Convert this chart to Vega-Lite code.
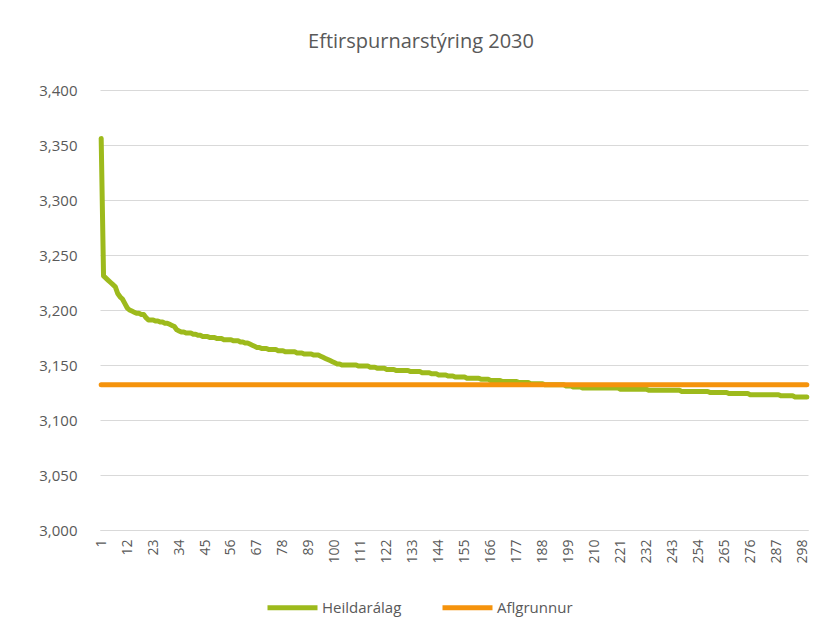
{
  "$schema": "https://vega.github.io/schema/vega-lite/v6.json",
  "autosize": {"type": "none"},
  "width": 708,
  "height": 440,
  "padding": {"left": 100, "top": 90, "right": 12, "bottom": 110},
  "background": "white",
  "title": {"text": "Eftirspurnarstýring 2030", "fontSize": 20, "font": "Open Sans", "fontWeight": "normal", "color": "#595959", "offset": 31, "dx": -33, "anchor": "middle"},
  "config": {"view": {"stroke": null}},
  "data": {"values": [
    {"n":1,"h":3356,"a":3132},{"n":2,"h":3231,"a":3132},{"n":3,"h":3229,"a":3132},{"n":4,"h":3227,"a":3132},{"n":5,"h":3225,"a":3132},
    {"n":6,"h":3223,"a":3132},{"n":7,"h":3221,"a":3132},{"n":8,"h":3215,"a":3132},{"n":9,"h":3212,"a":3132},{"n":10,"h":3210,"a":3132},
    {"n":11,"h":3206,"a":3132},{"n":12,"h":3202,"a":3132},{"n":13,"h":3200,"a":3132},{"n":14,"h":3199,"a":3132},{"n":15,"h":3198,"a":3132},
    {"n":16,"h":3197,"a":3132},{"n":17,"h":3197,"a":3132},{"n":18,"h":3196,"a":3132},{"n":19,"h":3196,"a":3132},{"n":20,"h":3193,"a":3132},
    {"n":21,"h":3191,"a":3132},{"n":22,"h":3191,"a":3132},{"n":23,"h":3191,"a":3132},{"n":24,"h":3190,"a":3132},{"n":25,"h":3190,"a":3132},
    {"n":26,"h":3189,"a":3132},{"n":27,"h":3189,"a":3132},{"n":28,"h":3188,"a":3132},{"n":29,"h":3188,"a":3132},{"n":30,"h":3187,"a":3132},
    {"n":31,"h":3186,"a":3132},{"n":32,"h":3185,"a":3132},{"n":33,"h":3182,"a":3132},{"n":34,"h":3181,"a":3132},{"n":35,"h":3180,"a":3132},
    {"n":36,"h":3180,"a":3132},{"n":37,"h":3179,"a":3132},{"n":38,"h":3179,"a":3132},{"n":39,"h":3179,"a":3132},{"n":40,"h":3178,"a":3132},
    {"n":41,"h":3178,"a":3132},{"n":42,"h":3177,"a":3132},{"n":43,"h":3177,"a":3132},{"n":44,"h":3176,"a":3132},{"n":45,"h":3176,"a":3132},
    {"n":46,"h":3176,"a":3132},{"n":47,"h":3175,"a":3132},{"n":48,"h":3175,"a":3132},{"n":49,"h":3175,"a":3132},{"n":50,"h":3174,"a":3132},
    {"n":51,"h":3174,"a":3132},{"n":52,"h":3174,"a":3132},{"n":53,"h":3173,"a":3132},{"n":54,"h":3173,"a":3132},{"n":55,"h":3173,"a":3132},
    {"n":56,"h":3173,"a":3132},{"n":57,"h":3172,"a":3132},{"n":58,"h":3172,"a":3132},{"n":59,"h":3172,"a":3132},{"n":60,"h":3171,"a":3132},
    {"n":61,"h":3171,"a":3132},{"n":62,"h":3170,"a":3132},{"n":63,"h":3170,"a":3132},{"n":64,"h":3169,"a":3132},{"n":65,"h":3168,"a":3132},
    {"n":66,"h":3167,"a":3132},{"n":67,"h":3166,"a":3132},{"n":68,"h":3166,"a":3132},{"n":69,"h":3165,"a":3132},{"n":70,"h":3165,"a":3132},
    {"n":71,"h":3165,"a":3132},{"n":72,"h":3164,"a":3132},{"n":73,"h":3164,"a":3132},{"n":74,"h":3164,"a":3132},{"n":75,"h":3164,"a":3132},
    {"n":76,"h":3163,"a":3132},{"n":77,"h":3163,"a":3132},{"n":78,"h":3163,"a":3132},{"n":79,"h":3162,"a":3132},{"n":80,"h":3162,"a":3132},
    {"n":81,"h":3162,"a":3132},{"n":82,"h":3162,"a":3132},{"n":83,"h":3162,"a":3132},{"n":84,"h":3161,"a":3132},{"n":85,"h":3161,"a":3132},
    {"n":86,"h":3161,"a":3132},{"n":87,"h":3160,"a":3132},{"n":88,"h":3160,"a":3132},{"n":89,"h":3160,"a":3132},{"n":90,"h":3160,"a":3132},
    {"n":91,"h":3159,"a":3132},{"n":92,"h":3159,"a":3132},{"n":93,"h":3159,"a":3132},{"n":94,"h":3158,"a":3132},{"n":95,"h":3157,"a":3132},
    {"n":96,"h":3156,"a":3132},{"n":97,"h":3155,"a":3132},{"n":98,"h":3154,"a":3132},{"n":99,"h":3153,"a":3132},{"n":100,"h":3152,"a":3132},
    {"n":101,"h":3151,"a":3132},{"n":102,"h":3151,"a":3132},{"n":103,"h":3150,"a":3132},{"n":104,"h":3150,"a":3132},{"n":105,"h":3150,"a":3132},
    {"n":106,"h":3150,"a":3132},{"n":107,"h":3150,"a":3132},{"n":108,"h":3150,"a":3132},{"n":109,"h":3150,"a":3132},{"n":110,"h":3149,"a":3132},
    {"n":111,"h":3149,"a":3132},{"n":112,"h":3149,"a":3132},{"n":113,"h":3149,"a":3132},{"n":114,"h":3149,"a":3132},{"n":115,"h":3148,"a":3132},
    {"n":116,"h":3148,"a":3132},{"n":117,"h":3148,"a":3132},{"n":118,"h":3147,"a":3132},{"n":119,"h":3147,"a":3132},{"n":120,"h":3147,"a":3132},
    {"n":121,"h":3147,"a":3132},{"n":122,"h":3146,"a":3132},{"n":123,"h":3146,"a":3132},{"n":124,"h":3146,"a":3132},{"n":125,"h":3146,"a":3132},
    {"n":126,"h":3145,"a":3132},{"n":127,"h":3145,"a":3132},{"n":128,"h":3145,"a":3132},{"n":129,"h":3145,"a":3132},{"n":130,"h":3145,"a":3132},
    {"n":131,"h":3145,"a":3132},{"n":132,"h":3144,"a":3132},{"n":133,"h":3144,"a":3132},{"n":134,"h":3144,"a":3132},{"n":135,"h":3144,"a":3132},
    {"n":136,"h":3144,"a":3132},{"n":137,"h":3143,"a":3132},{"n":138,"h":3143,"a":3132},{"n":139,"h":3143,"a":3132},{"n":140,"h":3143,"a":3132},
    {"n":141,"h":3142,"a":3132},{"n":142,"h":3142,"a":3132},{"n":143,"h":3142,"a":3132},{"n":144,"h":3141,"a":3132},{"n":145,"h":3141,"a":3132},
    {"n":146,"h":3141,"a":3132},{"n":147,"h":3141,"a":3132},{"n":148,"h":3140,"a":3132},{"n":149,"h":3140,"a":3132},{"n":150,"h":3140,"a":3132},
    {"n":151,"h":3139,"a":3132},{"n":152,"h":3139,"a":3132},{"n":153,"h":3139,"a":3132},{"n":154,"h":3139,"a":3132},{"n":155,"h":3139,"a":3132},
    {"n":156,"h":3138,"a":3132},{"n":157,"h":3138,"a":3132},{"n":158,"h":3138,"a":3132},{"n":159,"h":3138,"a":3132},{"n":160,"h":3138,"a":3132},
    {"n":161,"h":3138,"a":3132},{"n":162,"h":3137,"a":3132},{"n":163,"h":3137,"a":3132},{"n":164,"h":3137,"a":3132},{"n":165,"h":3137,"a":3132},
    {"n":166,"h":3136,"a":3132},{"n":167,"h":3136,"a":3132},{"n":168,"h":3136,"a":3132},{"n":169,"h":3136,"a":3132},{"n":170,"h":3136,"a":3132},
    {"n":171,"h":3135,"a":3132},{"n":172,"h":3135,"a":3132},{"n":173,"h":3135,"a":3132},{"n":174,"h":3135,"a":3132},{"n":175,"h":3135,"a":3132},
    {"n":176,"h":3135,"a":3132},{"n":177,"h":3135,"a":3132},{"n":178,"h":3134,"a":3132},{"n":179,"h":3134,"a":3132},{"n":180,"h":3134,"a":3132},
    {"n":181,"h":3134,"a":3132},{"n":182,"h":3134,"a":3132},{"n":183,"h":3133,"a":3132},{"n":184,"h":3133,"a":3132},{"n":185,"h":3133,"a":3132},
    {"n":186,"h":3133,"a":3132},{"n":187,"h":3133,"a":3132},{"n":188,"h":3133,"a":3132},{"n":189,"h":3132,"a":3132},{"n":190,"h":3132,"a":3132},
    {"n":191,"h":3132,"a":3132},{"n":192,"h":3132,"a":3132},{"n":193,"h":3132,"a":3132},{"n":194,"h":3132,"a":3132},{"n":195,"h":3132,"a":3132},
    {"n":196,"h":3132,"a":3132},{"n":197,"h":3132,"a":3132},{"n":198,"h":3131,"a":3132},{"n":199,"h":3131,"a":3132},{"n":200,"h":3131,"a":3132},
    {"n":201,"h":3130,"a":3132},{"n":202,"h":3130,"a":3132},{"n":203,"h":3130,"a":3132},{"n":204,"h":3130,"a":3132},{"n":205,"h":3129,"a":3132},
    {"n":206,"h":3129,"a":3132},{"n":207,"h":3129,"a":3132},{"n":208,"h":3129,"a":3132},{"n":209,"h":3129,"a":3132},{"n":210,"h":3129,"a":3132},
    {"n":211,"h":3129,"a":3132},{"n":212,"h":3129,"a":3132},{"n":213,"h":3129,"a":3132},{"n":214,"h":3129,"a":3132},{"n":215,"h":3129,"a":3132},
    {"n":216,"h":3129,"a":3132},{"n":217,"h":3129,"a":3132},{"n":218,"h":3129,"a":3132},{"n":219,"h":3129,"a":3132},{"n":220,"h":3129,"a":3132},
    {"n":221,"h":3128,"a":3132},{"n":222,"h":3128,"a":3132},{"n":223,"h":3128,"a":3132},{"n":224,"h":3128,"a":3132},{"n":225,"h":3128,"a":3132},
    {"n":226,"h":3128,"a":3132},{"n":227,"h":3128,"a":3132},{"n":228,"h":3128,"a":3132},{"n":229,"h":3128,"a":3132},{"n":230,"h":3128,"a":3132},
    {"n":231,"h":3128,"a":3132},{"n":232,"h":3128,"a":3132},{"n":233,"h":3127,"a":3132},{"n":234,"h":3127,"a":3132},{"n":235,"h":3127,"a":3132},
    {"n":236,"h":3127,"a":3132},{"n":237,"h":3127,"a":3132},{"n":238,"h":3127,"a":3132},{"n":239,"h":3127,"a":3132},{"n":240,"h":3127,"a":3132},
    {"n":241,"h":3127,"a":3132},{"n":242,"h":3127,"a":3132},{"n":243,"h":3127,"a":3132},{"n":244,"h":3127,"a":3132},{"n":245,"h":3127,"a":3132},
    {"n":246,"h":3127,"a":3132},{"n":247,"h":3126,"a":3132},{"n":248,"h":3126,"a":3132},{"n":249,"h":3126,"a":3132},{"n":250,"h":3126,"a":3132},
    {"n":251,"h":3126,"a":3132},{"n":252,"h":3126,"a":3132},{"n":253,"h":3126,"a":3132},{"n":254,"h":3126,"a":3132},{"n":255,"h":3126,"a":3132},
    {"n":256,"h":3126,"a":3132},{"n":257,"h":3126,"a":3132},{"n":258,"h":3126,"a":3132},{"n":259,"h":3125,"a":3132},{"n":260,"h":3125,"a":3132},
    {"n":261,"h":3125,"a":3132},{"n":262,"h":3125,"a":3132},{"n":263,"h":3125,"a":3132},{"n":264,"h":3125,"a":3132},{"n":265,"h":3125,"a":3132},
    {"n":266,"h":3125,"a":3132},{"n":267,"h":3124,"a":3132},{"n":268,"h":3124,"a":3132},{"n":269,"h":3124,"a":3132},{"n":270,"h":3124,"a":3132},
    {"n":271,"h":3124,"a":3132},{"n":272,"h":3124,"a":3132},{"n":273,"h":3124,"a":3132},{"n":274,"h":3124,"a":3132},{"n":275,"h":3124,"a":3132},
    {"n":276,"h":3123,"a":3132},{"n":277,"h":3123,"a":3132},{"n":278,"h":3123,"a":3132},{"n":279,"h":3123,"a":3132},{"n":280,"h":3123,"a":3132},
    {"n":281,"h":3123,"a":3132},{"n":282,"h":3123,"a":3132},{"n":283,"h":3123,"a":3132},{"n":284,"h":3123,"a":3132},{"n":285,"h":3123,"a":3132},
    {"n":286,"h":3123,"a":3132},{"n":287,"h":3123,"a":3132},{"n":288,"h":3123,"a":3132},{"n":289,"h":3122,"a":3132},{"n":290,"h":3122,"a":3132},
    {"n":291,"h":3122,"a":3132},{"n":292,"h":3122,"a":3132},{"n":293,"h":3122,"a":3132},{"n":294,"h":3122,"a":3132},{"n":295,"h":3121,"a":3132},
    {"n":296,"h":3121,"a":3132},{"n":297,"h":3121,"a":3132},{"n":298,"h":3121,"a":3132},{"n":299,"h":3121,"a":3132},{"n":300,"h":3121,"a":3132}
  ]},
  "encoding": {
    "x": {"field": "n", "type": "quantitative",
      "scale": {"domain": [0.5, 300.5], "nice": false, "zero": false},
      "axis": {"title": null, "grid": false, "ticks": false, "tickSize": 0, "domainColor": "#d9d9d9", "domainWidth": 1,
        "values": [1,12,23,34,45,56,67,78,89,100,111,122,133,144,155,166,177,188,199,210,221,232,243,254,265,276,287,298],
        "labelAngle": 270, "labelAlign": "right", "labelBaseline": "middle", "labelPadding": 9,
        "labelFont": "Open Sans", "labelFontSize": 14, "labelColor": "#595959", "labelOverlap": false, "labelFlush": false}
    }
  },
  "layer": [
    {
      "mark": {"type": "line", "strokeWidth": 5, "strokeCap": "round", "strokeJoin": "round"},
      "encoding": {
        "y": {"field": "h", "type": "quantitative",
          "scale": {"domain": [3000, 3400], "nice": false, "zero": false},
          "axis": {"title": null, "values": [3000,3050,3100,3150,3200,3250,3300,3350,3400], "format": ",.0f",
            "domain": false, "ticks": false, "tickSize": 0, "labelPadding": 23, "gridColor": "#d9d9d9", "gridWidth": 1,
            "labelFont": "Open Sans", "labelFontSize": 15, "labelColor": "#595959"}},
        "color": {"datum": "Heildarálag", "type": "nominal",
          "scale": {"domain": ["Heildarálag", "Aflgrunnur"], "range": ["#9DBA1C", "#F5930C"]},
          "legend": {"title": null, "orient": "none", "legendX": 165, "legendY": 490, "direction": "horizontal",
            "symbolType": "stroke", "symbolSize": 2500, "symbolStrokeWidth": 5,
            "labelFont": "Open Sans", "labelFontSize": 15, "labelColor": "#595959", "columnPadding": 30, "labelOffset": 2}}
      }
    },
    {
      "mark": {"type": "line", "strokeWidth": 5, "strokeCap": "round"},
      "encoding": {
        "y": {"field": "a", "type": "quantitative"},
        "color": {"datum": "Aflgrunnur", "type": "nominal"}
      }
    }
  ]
}
